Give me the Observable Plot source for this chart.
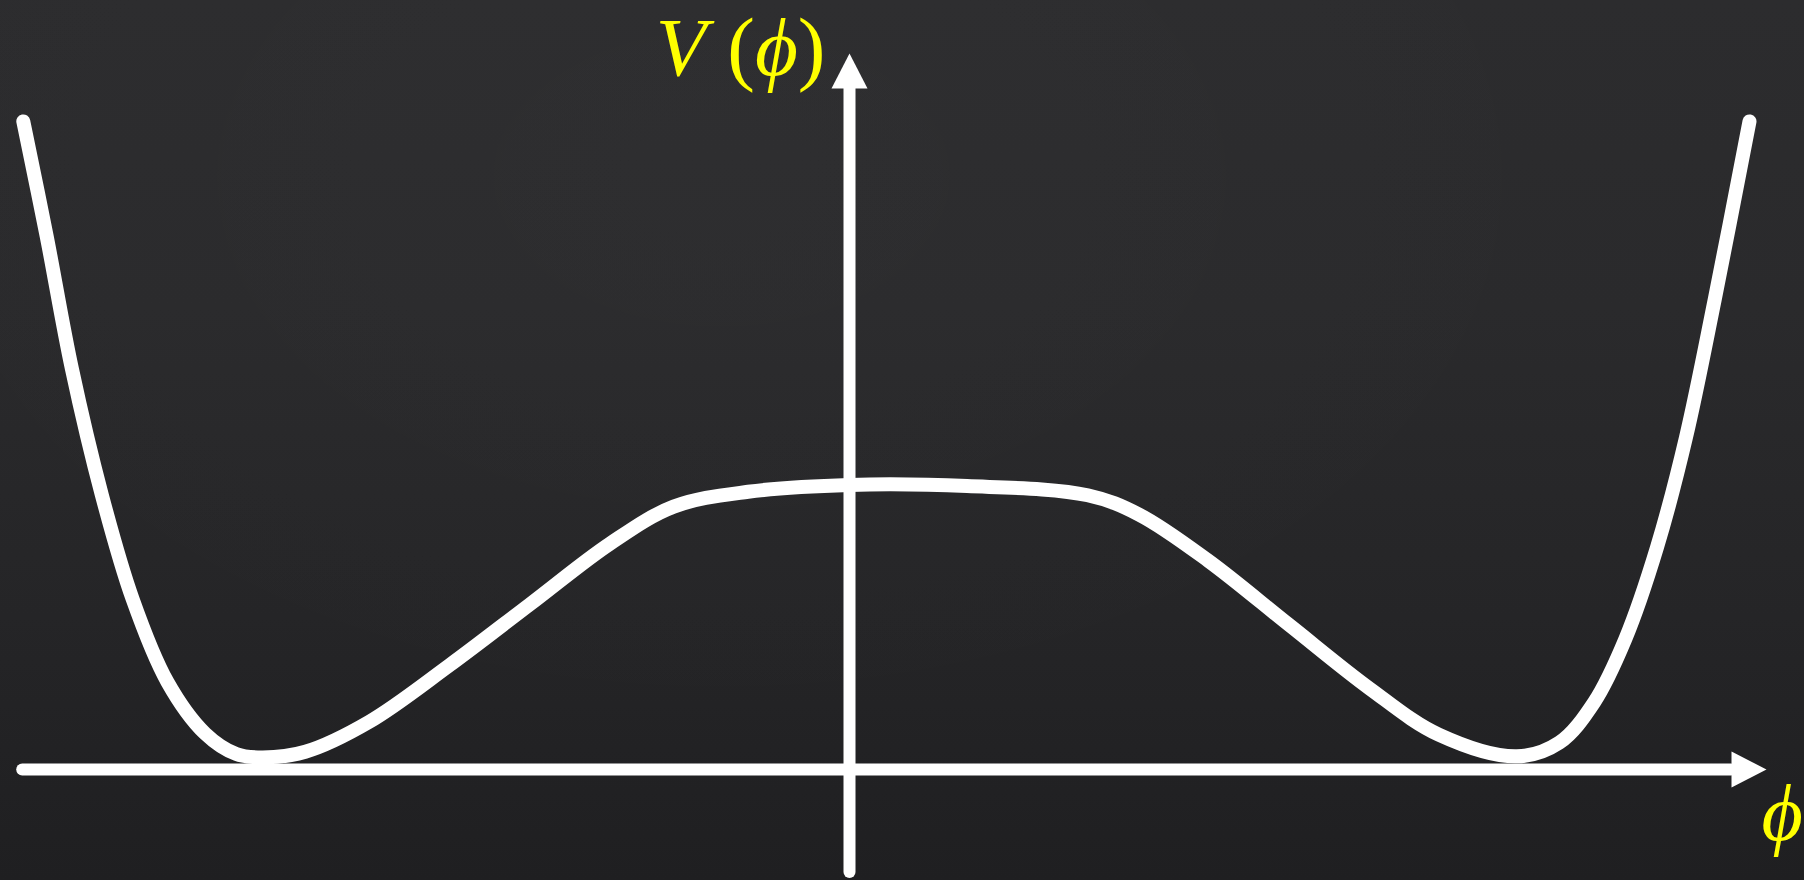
<!DOCTYPE html>
<html>
<head>
<meta charset="utf-8">
<script src="https://cdn.jsdelivr.net/npm/d3@7"></script>
<script src="https://cdn.jsdelivr.net/npm/@observablehq/plot@0.6"></script>
<style>
  html, body { margin: 0; padding: 0; background: #222224; }
  #chart {
    width: 1804px; height: 880px;
    background:
      radial-gradient(ellipse at 40% 20%, rgba(255,255,255,0.015), rgba(255,255,255,0) 60%),
      linear-gradient(180deg, #2c2c2e 0%, #2a2a2c 35%, #252527 70%, #1f1f21 100%);
  }
  #chart svg { display: block; background: transparent; }
</style>
</head>
<body>
<div id="chart"></div>
<script>
// Double-well potential V(phi), sampled along the curve
const phi = [
  -1.377, -1.338, -1.296, -1.246, -1.195, -1.137, -1.074, -1.022, -0.978,
  -0.907, -0.801, -0.667, -0.533, -0.399, -0.293, -0.169, 0.000, 0.196, 0.397,
  0.483, 0.598, 0.733, 0.867, 0.982, 1.112,
  1.183, 1.241, 1.293, 1.346, 1.394, 1.442, 1.500
];
const V = [
  2.266, 1.864, 1.401, 0.959, 0.597, 0.307, 0.126, 0.054, 0.042,
  0.062, 0.166, 0.364, 0.577, 0.790, 0.919, 0.971, 0.995, 0.991, 0.959,
  0.891, 0.730, 0.505, 0.283, 0.122, 0.046,
  0.094, 0.235, 0.456, 0.778, 1.160, 1.643, 2.266
];

// Extents of the two coordinate axes (phi axis and V axis)
const phiAxis = [-1.378, 1.470];
const vAxis = [-0.360, 2.381];

// Axis labels
const yLabel = ["V", " (", "ϕ", ")"];
const xLabel = "ϕ";

const curve = phi.map((p, i) => ({phi: p, V: V[i]}));

// Filled arrowheads
const arrowUp = {draw(ctx) { ctx.moveTo(0, -35); ctx.lineTo(18, 0); ctx.lineTo(-18, 0); ctx.closePath(); }};
const arrowRight = {draw(ctx) { ctx.moveTo(35, 0); ctx.lineTo(0, 18); ctx.lineTo(0, -18); ctx.closePath(); }};

const ink = "#ffffff";
const labelInk = "#ffff00";
const serif = "'Liberation Serif', 'DejaVu Serif', serif";

const chart = Plot.plot({
  width: 1804,
  height: 880,
  margin: 0,
  style: {background: "transparent", overflow: "visible"},
  x: {domain: [-849 / 600, 955 / 600], axis: null},
  y: {domain: [-111 / 286, 769 / 286], axis: null},
  marks: [
    // phi axis
    Plot.ruleY([{v: 0, a: phiAxis[0], b: phiAxis[1]}], {
      y: "v", x1: "a", x2: "b", stroke: ink, strokeWidth: 12, strokeLinecap: "round"
    }),
    Plot.dot([{x: phiAxis[1], y: 0}], {x: "x", y: "y", symbol: arrowRight, fill: ink, stroke: "none", r: 1}),
    // V axis
    Plot.ruleX([{v: 0, a: vAxis[0], b: vAxis[1]}], {
      x: "v", y1: "a", y2: "b", stroke: ink, strokeWidth: 12, strokeLinecap: "round"
    }),
    Plot.dot([{x: 0, y: vAxis[1]}], {x: "x", y: "y", symbol: arrowUp, fill: ink, stroke: "none", r: 1}),
    // the potential
    Plot.line(curve, {
      x: "phi", y: "V", curve: "catmull-rom",
      stroke: ink, strokeWidth: 14, strokeLinecap: "round", strokeLinejoin: "round"
    }),
    // labels
    Plot.text([yLabel.join("")], {
      x: -0.040, y: 2.430, text: d => d, textAnchor: "end", lineAnchor: "bottom",
      fill: labelInk, fontSize: 83, fontFamily: serif
    }),
    Plot.text([xLabel], {
      x: 1.52, y: -0.248, text: d => d, textAnchor: "start", lineAnchor: "bottom",
      fill: labelInk, fontSize: 80, fontFamily: serif, fontStyle: "italic"
    })
  ]
});

// Typeset V(phi): italic symbols, upright parentheses
d3.select(chart).selectAll("text").each(function() {
  if (this.textContent !== yLabel.join("")) return;
  const t = d3.select(this);
  t.text(null);
  yLabel.forEach(part => {
    t.append("tspan")
      .attr("font-style", /[()]/.test(part) ? "normal" : "italic")
      .text(part);
  });
});

document.getElementById("chart").appendChild(chart);
</script>
</body>
</html>
